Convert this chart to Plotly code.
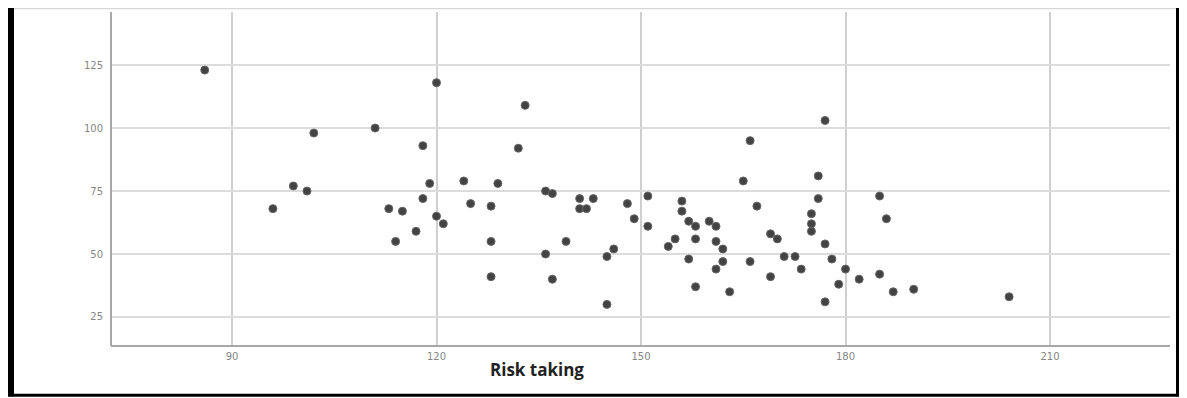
import plotly.graph_objects as go

# Data (x = Risk taking, y = outcome)
risk_taking = [86, 96, 99, 101, 102, 111, 113, 114, 115, 117, 118, 118, 119, 120, 120, 121,
               124, 125, 128, 128, 128, 129, 132, 133, 136, 137, 136, 137, 139, 141, 143, 141,
               142, 145, 146, 145, 148, 149, 151, 151, 154, 155, 156, 156, 157, 158, 158, 157,
               158, 160, 161, 161, 162, 162, 161, 163, 165, 166, 166, 167, 169, 170, 169, 171,
               172.6, 173.5, 175, 175, 175, 176, 176, 177, 177, 177, 178, 179, 180, 182, 185,
               186, 185, 187, 190, 204]
outcome = [123, 68, 77, 75, 98, 100, 68, 55, 67, 59, 93, 72, 78, 118, 65, 62,
           79, 70, 69, 55, 41, 78, 92, 109, 75, 74, 50, 40, 55, 72, 72, 68,
           68, 49, 52, 30, 70, 64, 73, 61, 53, 56, 71, 67, 63, 61, 56, 48,
           37, 63, 61, 55, 52, 47, 44, 35, 79, 95, 47, 69, 58, 56, 41, 49,
           49, 44, 66, 62, 59, 81, 72, 103, 54, 31, 48, 38, 44, 40, 73,
           64, 42, 35, 36, 33]

x_tickvals = [90, 120, 150, 180, 210]
x_ticktext = ["90", "120", "150", "180", "210"]
y_tickvals = [25, 50, 75, 100, 125]
y_ticktext = ["25", "50", "75", "100", "125"]
x_title = "Risk taking"

# The page body has an 8px margin, so the figure is laid out 8px smaller
# and every reference pixel position is shifted by -8.
OFF = 8
W, H = 1187 - OFF, 398 - OFF
L, T = 111 - OFF, 12 - OFF
plot_right, plot_bottom = 1170 - OFF, 345.7 - OFF
R, B = W - plot_right, H - plot_bottom
pw, ph = plot_right - L, plot_bottom - T


def px(ref_x):
    return (ref_x - OFF - L) / pw


def py(ref_y):
    return (plot_bottom - (ref_y - OFF)) / ph


fig = go.Figure()
fig.add_trace(go.Scatter(
    x=risk_taking, y=outcome, mode="markers",
    marker=dict(size=8, color="#434343", line=dict(color="#666666", width=1)),
    showlegend=False, hoverinfo="x+y",
))

axis_common = dict(showline=False, zeroline=False, ticks="",
                   tickfont=dict(family="DejaVu Sans", size=10, color="#858585"))

fig.update_xaxes(range=[72.25, 227.6], tickvals=x_tickvals, ticktext=x_ticktext,
                 showgrid=True, gridcolor="#cfcfcf", gridwidth=1.5, ticklabelstandoff=3,
                 **axis_common)
fig.update_yaxes(range=[13.48, 146.06], tickvals=y_tickvals, ticktext=y_ticktext,
                 showgrid=True, gridcolor="#dcdcdc", gridwidth=1.5, ticklabelstandoff=7,
                 **axis_common)

shapes = [
    # axis lines
    dict(type="line", xref="paper", yref="paper", x0=0, x1=0, y0=0, y1=1,
         line=dict(color="#a8a8a8", width=2)),
    dict(type="line", xref="paper", yref="paper", x0=0, x1=1, y0=0, y1=0,
         line=dict(color="#a8a8a8", width=2)),
    # outer frame
    dict(type="rect", xref="paper", yref="paper", x0=px(8), x1=px(14), y0=py(396), y1=py(8),
         fillcolor="#000000", line=dict(width=0), layer="above"),
    dict(type="line", xref="paper", yref="paper", x0=px(14), x1=px(1183), y0=py(8.6), y1=py(8.6),
         line=dict(color="#d6d6d6", width=1.2)),
    dict(type="rect", xref="paper", yref="paper", x0=px(1176), x1=px(1180), y0=py(396), y1=py(8),
         fillcolor="#000000", line=dict(width=0), layer="above"),
    dict(type="rect", xref="paper", yref="paper", x0=px(8), x1=px(1186), y0=py(396.5), y1=py(393.5),
         fillcolor="#000000", line=dict(width=0), layer="above"),
]

fig.update_layout(
    width=W, height=H,
    margin=dict(l=L, r=R, t=T, b=B),
    paper_bgcolor="white", plot_bgcolor="white",
    shapes=shapes,
    annotations=[dict(text="<b>" + x_title + "</b>", xref="paper", yref="paper",
                      x=px(537), y=py(369.5), xanchor="center", yanchor="middle",
                      showarrow=False,
                      font=dict(family="Open Sans", size=17, color="#222222"))],
)

fig.write_html("out.html")
